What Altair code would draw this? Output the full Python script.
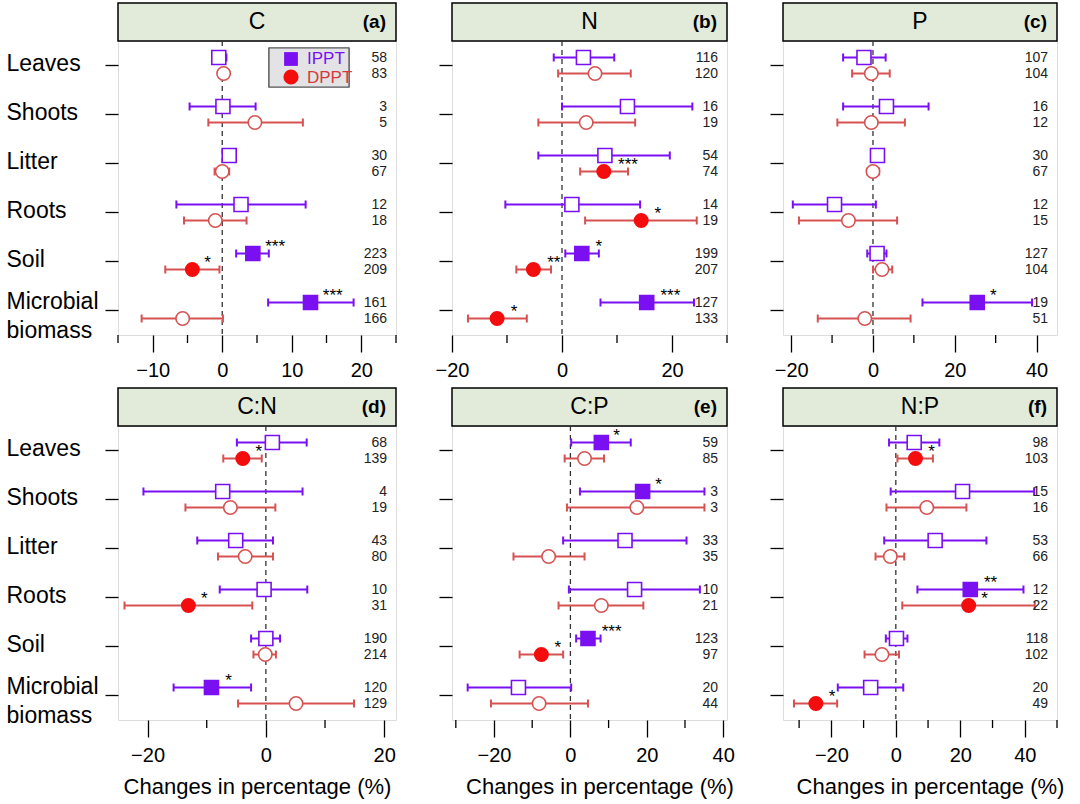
import altair as alt
import pandas as pd

FONT = "Liberation Sans"
CATEGORIES = ["Leaves", "Shoots", "Litter", "Roots", "Soil", "Microbial biomass"]
SERIES = ["IPPT", "DPPT"]
PANEL_NAMES = ["C", "N", "P", "C:N", "C:P", "N:P"]
PANEL_TAGS = ["(a)", "(b)", "(c)", "(d)", "(e)", "(f)"]
X_TITLE = "Changes in percentage (%)"

# ---- (a) C ----
C_DATA = dict(
    ippt_mean=[-0.5, 0.1, 1.0, 2.7, 4.4, 12.7],
    ippt_lo=[-1.3, -4.7, 0.2, -6.6, 2.0, 6.6],
    ippt_hi=[0.6, 4.8, 1.9, 12.0, 6.7, 18.9],
    ippt_n=[58, 3, 30, 12, 223, 161],
    ippt_star=["", "", "", "", "***", "***"],
    ippt_star_x=[None, None, None, None, 7.6, 15.9],
    dppt_mean=[0.2, 4.7, 0.0, -1.0, -4.3, -5.7],
    dppt_lo=[-0.5, -2.0, -1.1, -5.5, -8.2, -11.6],
    dppt_hi=[0.9, 11.6, 1.0, 3.5, -0.4, 0.1],
    dppt_n=[83, 5, 67, 18, 209, 166],
    dppt_star=["", "", "", "", "*", ""],
    dppt_star_x=[None, None, None, None, -2.1, None],
)
# ---- (b) N ----
N_DATA = dict(
    ippt_mean=[3.9, 11.9, 7.8, 1.8, 3.6, 15.4],
    ippt_lo=[-1.5, 0.0, -4.3, -10.3, 0.6, 7.0],
    ippt_hi=[9.5, 23.7, 19.6, 14.2, 6.7, 24.0],
    ippt_n=[116, 16, 54, 14, 199, 127],
    ippt_star=["", "", "", "", "*", "***"],
    ippt_star_x=[None, None, None, None, 6.7, 19.7],
    dppt_mean=[6.0, 4.4, 7.6, 14.4, -5.2, -11.8],
    dppt_lo=[-0.7, -4.3, 3.3, 4.2, -8.3, -17.1],
    dppt_hi=[12.5, 13.3, 12.0, 24.5, -2.0, -6.4],
    dppt_n=[120, 19, 74, 19, 207, 133],
    dppt_star=["", "", "***", "*", "**", "*"],
    dppt_star_x=[None, None, 12.0, 17.4, -1.5, -8.7],
)
# ---- (c) P ----
P_DATA = dict(
    ippt_mean=[-2.2, 3.3, 1.1, -9.4, 1.0, 25.5],
    ippt_lo=[-7.3, -7.3, -0.4, -19.6, -1.4, 12.1],
    ippt_hi=[3.1, 13.6, 2.4, 0.7, 3.3, 38.9],
    ippt_n=[107, 16, 30, 12, 127, 19],
    ippt_star=["", "", "", "", "", "*"],
    ippt_star_x=[None, None, None, None, None, 29.4],
    dppt_mean=[-0.4, -0.4, 0.0, -6.0, 2.2, -2.0],
    dppt_lo=[-5.1, -8.7, -1.4, -18.1, 0.0, -13.5],
    dppt_hi=[4.1, 7.8, 1.5, 5.9, 4.7, 9.2],
    dppt_n=[104, 12, 67, 15, 104, 51],
    dppt_star=["", "", "", "", "", ""],
    dppt_star_x=[None, None, None, None, None, None],
)
# ---- (d) C:N ----
CN_DATA = dict(
    ippt_mean=[1.1, -7.3, -5.1, -0.3, 0.0, -9.2],
    ippt_lo=[-4.9, -20.7, -11.6, -7.8, -2.5, -15.6],
    ippt_hi=[6.9, 6.2, 1.2, 7.0, 2.4, -2.5],
    ippt_n=[68, 4, 43, 10, 190, 120],
    ippt_star=["", "", "", "", "", "*"],
    ippt_star_x=[None, None, None, None, None, -6.3],
    dppt_mean=[-3.9, -6.0, -3.5, -13.1, -0.1, 5.1],
    dppt_lo=[-7.2, -13.6, -8.1, -23.9, -2.1, -4.7],
    dppt_hi=[-0.7, 1.6, 1.2, -2.3, 1.7, 14.9],
    dppt_n=[139, 19, 80, 31, 214, 129],
    dppt_star=["*", "", "", "*", "", ""],
    dppt_star_x=[-1.2, None, None, -10.4, None, None],
)
# ---- (e) C:P ----
CP_DATA = dict(
    ippt_mean=[8.1, 18.9, 14.3, 16.8, 4.6, -13.6],
    ippt_lo=[0.2, 2.5, -1.9, -0.4, 1.5, -26.9],
    ippt_hi=[15.8, 35.1, 30.4, 33.9, 7.9, 0.2],
    ippt_n=[59, 3, 33, 10, 123, 20],
    ippt_star=["*", "*", "", "", "***", ""],
    ippt_star_x=[12.1, 23.1, None, None, 10.8, None],
    dppt_mean=[3.7, 17.4, -5.7, 8.1, -7.6, -8.2],
    dppt_lo=[-1.5, -0.9, -14.9, -3.1, -13.3, -20.8],
    dppt_hi=[8.8, 35.1, 3.7, 19.1, -1.9, 4.6],
    dppt_n=[85, 3, 35, 21, 97, 44],
    dppt_star=["", "", "", "", "*", ""],
    dppt_star_x=[None, None, None, None, -3.3, None],
)
# ---- (f) N:P ----
NP_DATA = dict(
    ippt_mean=[5.7, 20.7, 12.2, 23.1, 0.2, -7.8],
    ippt_lo=[-2.1, -1.6, -3.6, 6.7, -3.1, -18.0],
    ippt_hi=[13.5, 42.9, 28.1, 39.6, 3.6, 2.3],
    ippt_n=[98, 15, 53, 12, 118, 20],
    ippt_star=["", "", "", "**", "", ""],
    ippt_star_x=[None, None, None, 29.4, None, None],
    dppt_mean=[6.1, 9.6, -1.7, 22.6, -4.3, -24.8],
    dppt_lo=[0.5, -2.9, -6.3, 2.0, -9.7, -31.6],
    dppt_hi=[11.5, 21.9, 2.6, 43.1, 1.0, -18.2],
    dppt_n=[103, 16, 66, 22, 102, 49],
    dppt_star=["*", "", "", "*", "", "*"],
    dppt_star_x=[11.1, None, None, 27.5, None, -19.8],
)

PANEL_DATA = [C_DATA, N_DATA, P_DATA, CN_DATA, CP_DATA, NP_DATA]
X_DOMAINS = [[-15, 25], [-20, 30], [-22, 45], [-25, 22], [-31, 41], [-35, 50]]
MAJOR_TICKS = [[-10, 0, 10, 20], [-20, 0, 20], [-20, 0, 20, 40],
               [-20, 0, 20], [-20, 0, 20, 40], [-20, 0, 20, 40]]
MINOR_TICKS = [[-15, -5, 5, 15, 25], [-10, 10, 30], [-10, 10, 30],
               [-10, 10], [-30, -10, 10, 30], [-30, -10, 10, 30, 50]]

# ---- styles ----
PURPLE = "#7a10f2"
RED = "#f40d0d"
RED_LINE = "#d65252"
HEADER_FILL = "#e2ebd9"
WIDTHS = [278, 275, 274]
PLOT_H = 294
HEAD_H = 38
TITLE_SHIFT = [0, 0, 0, 0, 10, 10]
KEYS = ["IPPT_sig", "IPPT_ns", "DPPT_sig", "DPPT_ns"]


def make_panel(i, width, show_ylabels, show_xtitle, legend=False):
    d = PANEL_DATA[i]
    rows = []
    for s in SERIES:
        k = s.lower()
        for j, cat in enumerate(CATEGORIES):
            star = d[k + "_star"][j]
            rows.append(dict(cat=cat, series=s, mean=d[k + "_mean"][j],
                             lo=d[k + "_lo"][j], hi=d[k + "_hi"][j],
                             n=d[k + "_n"][j], star=star,
                             star_x=d[k + "_star_x"][j],
                             key=s + ("_sig" if star else "_ns")))
    df = pd.DataFrame(rows)

    xs = alt.Scale(domain=X_DOMAINS[i], nice=False, zero=False)
    xaxis_kw = dict(values=MAJOR_TICKS[i], tickSize=17, tickWidth=1.3,
                    tickColor="black", domain=False, grid=False,
                    labelFontSize=20, labelFont=FONT, labelColor="black",
                    labelPadding=8, labelFlush=False,
                    titleFontSize=22, titleFont=FONT, titleFontWeight="normal",
                    titleColor="black", titlePadding=11)
    if show_xtitle:
        xaxis = alt.Axis(title=X_TITLE, titleX=width / 2 + TITLE_SHIFT[i], **xaxis_kw)
    else:
        xaxis = alt.Axis(title=None, **xaxis_kw)
    if show_ylabels:
        yaxis = alt.Axis(title=None, domain=False, tickSize=13, tickWidth=1.3,
                         tickColor="black", labelFontSize=23, labelFont=FONT,
                         labelColor="black", labelAlign="left", labelPadding=99,
                         labelLimit=0, labelExpr="split(datum.label, ' ')",
                         labelLineHeight=29, labelBaseline="middle",
                         labelOffset={"condition": {"test": "indexof(datum.value, ' ') >= 0",
                                                    "value": -9},
                                      "value": -2})
    else:
        yaxis = alt.Axis(title=None, domain=False, tickSize=13, tickWidth=1.3,
                         tickColor="black", labels=False)

    Y = alt.Y("cat:N", sort=CATEGORIES,
              scale=alt.Scale(domain=CATEGORIES, paddingInner=0, paddingOuter=0),
              axis=yaxis)
    YO = alt.YOffset("series:N", sort=SERIES,
                     scale=alt.Scale(type="point", domain=SERIES,
                                     range=[16.5, 32.5], padding=0))

    base = alt.Chart(df).encode(y=Y, yOffset=YO)

    head_df = pd.DataFrame({"t": [PANEL_NAMES[i]], "tag": [PANEL_TAGS[i]]})
    head = alt.Chart(head_df)
    header_rect = head.mark_rect(fill=HEADER_FILL, stroke="black", strokeWidth=1.5).encode(
        x=alt.value(0), x2=alt.value(width), y=alt.value(-HEAD_H), y2=alt.value(0))
    header_title = head.mark_text(fontSize=23, font=FONT, color="black", baseline="middle").encode(
        text="t:N", x=alt.value(width / 2), y=alt.value(-HEAD_H / 2))
    header_tag = head.mark_text(fontSize=19, font=FONT, fontWeight="bold", color="black",
                                align="right", baseline="middle").encode(
        text="tag:N", x=alt.value(width - 10), y=alt.value(-HEAD_H / 2))

    zero = alt.Chart(pd.DataFrame({"z": [0]})).mark_rule(
        strokeDash=[5, 4], color="#333333", strokeWidth=1.3).encode(
        x=alt.X("z:Q", scale=xs, axis=xaxis))

    minor = alt.Chart(pd.DataFrame({"v": MINOR_TICKS[i]})).mark_rule(
        color="black", strokeWidth=1.3).encode(
        x=alt.X("v:Q", scale=xs, axis=xaxis),
        y=alt.value(PLOT_H), y2=alt.value(PLOT_H + 8))

    layers = [header_rect, header_title, header_tag, zero, minor]

    for s, col in zip(SERIES, [PURPLE, RED_LINE]):
        sub = base.transform_filter(f"datum.series == '{s}'")
        layers.append(sub.mark_rule(color=col, strokeWidth=2).encode(
            x=alt.X("lo:Q", scale=xs, axis=xaxis), x2="hi:Q"))
        layers.append(sub.transform_fold(["lo", "hi"], as_=["end", "xv"]).mark_tick(
            color=col, thickness=2, size=8, orient="vertical", opacity=1).encode(
            x=alt.X("xv:Q", scale=xs, axis=xaxis)))

    points = base.mark_point(filled=True, opacity=1, strokeWidth=1.6).encode(
        x=alt.X("mean:Q", scale=xs, axis=xaxis),
        shape=alt.Shape("series:N", scale=alt.Scale(domain=SERIES, range=["square", "circle"]),
                        legend=None),
        size=alt.Size("series:N", scale=alt.Scale(domain=SERIES, range=[196, 180]), legend=None),
        fill=alt.Fill("key:N", scale=alt.Scale(domain=KEYS, range=[PURPLE, "white", RED, "white"]),
                      legend=None),
        stroke=alt.Stroke("key:N", scale=alt.Scale(domain=KEYS, range=[PURPLE, PURPLE, RED, RED_LINE]),
                          legend=None),
    )
    nlab = base.mark_text(align="right", baseline="middle", fontSize=14, font=FONT,
                          color="#222222").encode(x=alt.value(width - 9), text="n:Q")
    stars = base.transform_filter("datum.star != ''").mark_text(
        align="center", baseline="middle", fontSize=17, font=FONT, color="black", dy=-7).encode(
        x=alt.X("star_x:Q", scale=xs, axis=xaxis), text="star:N")
    layers += [points, nlab, stars]

    if legend:
        lg = alt.Chart(pd.DataFrame({"s": SERIES}))
        layers.append(lg.mark_rect(fill="#e3e3e6", stroke="#555555", strokeWidth=1.2).encode(
            x=alt.value(151), x2=alt.value(231), y=alt.value(7), y2=alt.value(46)))
        ipp = lg.transform_filter("datum.s == 'IPPT'")
        dpp = lg.transform_filter("datum.s == 'DPPT'")
        layers.append(ipp.mark_point(shape="square", filled=True, size=190, color=PURPLE, opacity=1).encode(
            x=alt.value(173), y=alt.value(18)))
        layers.append(dpp.mark_point(shape="circle", filled=True, size=230, color=RED, opacity=1).encode(
            x=alt.value(173), y=alt.value(36)))
        layers.append(ipp.mark_text(align="left", baseline="middle", fontSize=17, font=FONT,
                                    color=PURPLE).encode(text="s:N", x=alt.value(189), y=alt.value(18)))
        layers.append(dpp.mark_text(align="left", baseline="middle", fontSize=17, font=FONT,
                                    color="#d43a3a").encode(text="s:N", x=alt.value(189), y=alt.value(37)))

    return alt.layer(*layers).properties(width=width, height=PLOT_H)


panels = [
    make_panel(0, WIDTHS[0], True, False, legend=True),
    make_panel(1, WIDTHS[1], False, False),
    make_panel(2, WIDTHS[2], False, False),
    make_panel(3, WIDTHS[0], True, True),
    make_panel(4, WIDTHS[1], False, True),
    make_panel(5, WIDTHS[2], False, True),
]

chart = alt.concat(*panels, columns=3, spacing={"row": 91, "column": 56},
                   bounds="flush", align="each").properties(
    padding={"left": 5, "top": 1, "right": 5, "bottom": 5},
    background="white",
).configure_view(stroke="black", strokeWidth=1.5).configure(font=FONT)

chart.save("out.html", embed_options={"renderer": "svg", "actions": False})
